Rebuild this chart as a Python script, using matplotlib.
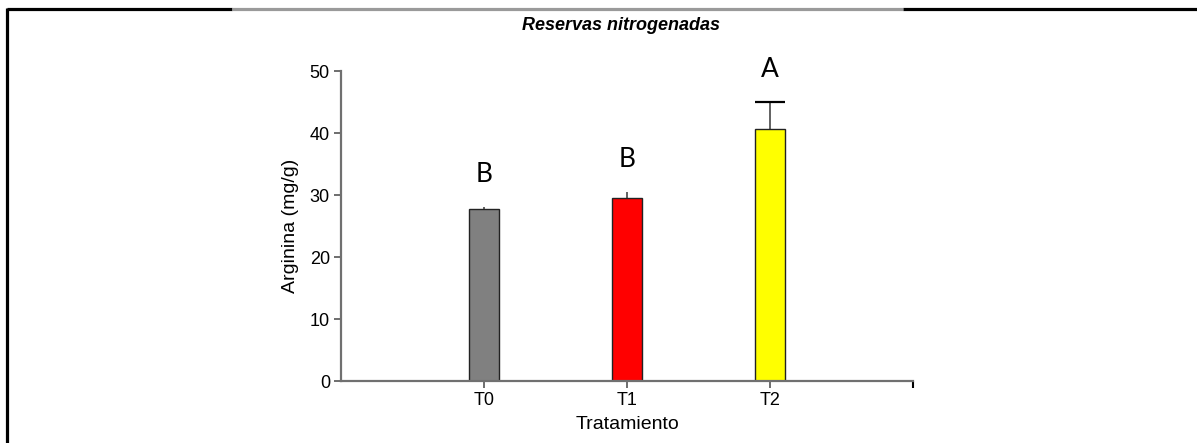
"""
Arginina por tratamiento, barras con error y letras de significancia.
"""
import matplotlib

matplotlib.use("Agg")
import matplotlib.pyplot as plt
from matplotlib.lines import Line2D

plt.rcParams["font.family"] = ["Liberation Sans", "DejaVu Sans"]

tratamientos = ["T0", "T1", "T2"]
arginina = [27.7, 29.5, 40.7]
error = [0.4, 1.0, 4.3]
letras = ["B", "B", "A"]
colores = ["#808080", "#ff0000", "#ffff00"]
con_tapa = [False, False, True]

W, H = 1197, 443
fig = plt.figure(figsize=(W / 100, H / 100), dpi=100)
fig.patch.set_facecolor("white")

# marco exterior (línea superior con tramo gris en el centro)
def _px(x, y):
    return x / W, 1 - y / H

lw = 2.3
for (x0, x1, c) in [(7, 232, "black"), (232, 903, "#9a9a9a"), (903, 1197, "black")]:
    a, b = _px(x0, 9), _px(x1, 9)
    fig.add_artist(Line2D([a[0], b[0]], [a[1], b[1]], color=c, lw=lw, solid_capstyle="butt"))
a, b = _px(7, 8), _px(7, 443)
fig.add_artist(Line2D([a[0], b[0]], [a[1], b[1]], color="black", lw=lw, solid_capstyle="butt"))

ax = fig.add_axes([341 / W, 62 / H, (913 - 341) / W, (381 - 71) / H])
x = list(range(len(tratamientos)))
ancho = 0.21
ax.bar(x, arginina, width=ancho, color=colores, edgecolor="#222222", linewidth=1.0, zorder=2)

# solo la mitad superior del error
ax.vlines(x, arginina, [m + e for m, e in zip(arginina, error)], color="#555555",
          linewidth=1.3, zorder=1)
for xi, m, e, t in zip(x, arginina, error, con_tapa):
    if t:
        ax.hlines(m + e, xi - ancho / 2, xi + ancho / 2, color="black", linewidth=1.6, zorder=1)

for xi, m, e, l in zip(x, arginina, error, letras):
    ax.text(xi, m + e + 5.2, l, ha="center", va="center", fontsize=19,
            family=["Lato", "DejaVu Sans"], color="black")

ax.set_xlim(-1, 3)
ax.set_ylim(0, 50)
ax.set_yticks([0, 10, 20, 30, 40, 50])
ax.set_xticks(x)
ax.set_xticklabels(tratamientos)
ax.set_xticks([3], minor=True)
ax.tick_params(axis="x", which="minor", length=5, width=1.5, color="black")
ax.tick_params(axis="both", labelsize=13, length=5, width=1.2, color="#555555", pad=3)
for s in ["top", "right"]:
    ax.spines[s].set_visible(False)
for s in ["left", "bottom"]:
    ax.spines[s].set_color("#707070")
    ax.spines[s].set_linewidth(1.6)
ax.set_ylabel("Arginina (mg/g)", fontsize=14, labelpad=8)
ax.set_xlabel("Tratamiento", fontsize=14, labelpad=5)

fig.text(621 / W, 1 - 26 / H, "Reservas nitrogenadas", ha="center", va="center",
         fontsize=13, fontweight="bold", fontstyle="italic")

fig.savefig("out.png", dpi=100, facecolor="white")
